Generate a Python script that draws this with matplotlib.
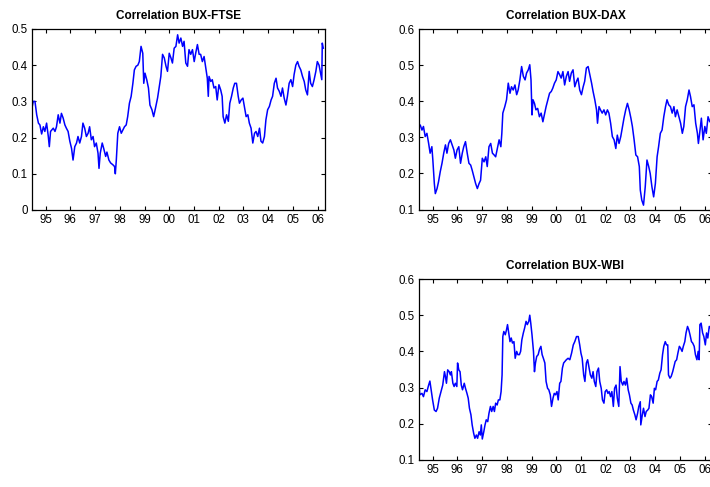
import matplotlib
matplotlib.use('Agg')
import matplotlib.pyplot as plt

# 滚动相关系数
ftse_years = [1994.46, 1994.50, 1994.57, 1994.64, 1994.71, 1994.77, 1994.84, 1994.91, 1994.97, 1995.04,
              1995.11, 1995.15, 1995.20, 1995.31, 1995.38, 1995.44, 1995.51, 1995.58, 1995.64, 1995.71,
              1995.78, 1995.84, 1995.91, 1995.98, 1996.05, 1996.11, 1996.18, 1996.25, 1996.31, 1996.38,
              1996.45, 1996.51, 1996.58, 1996.65, 1996.72, 1996.78, 1996.85, 1996.92, 1996.98, 1997.05,
              1997.12, 1997.16, 1997.21, 1997.29, 1997.35, 1997.43, 1997.48, 1997.56, 1997.63, 1997.72,
              1997.79, 1997.82, 1997.86, 1997.92, 1997.99, 1998.06, 1998.12, 1998.19, 1998.26, 1998.32,
              1998.39, 1998.46, 1998.53, 1998.59, 1998.66, 1998.73, 1998.79, 1998.86, 1998.93, 1998.97,
              1999.02, 1999.09, 1999.16, 1999.22, 1999.30, 1999.37, 1999.44, 1999.53, 1999.60, 1999.66,
              1999.73, 1999.80, 1999.87, 1999.93, 2000.00, 2000.07, 2000.13, 2000.20, 2000.27, 2000.34,
              2000.40, 2000.47, 2000.54, 2000.60, 2000.67, 2000.74, 2000.80, 2000.87, 2000.94, 2001.01,
              2001.07, 2001.14, 2001.21, 2001.27, 2001.34, 2001.41, 2001.47, 2001.54, 2001.58, 2001.61,
              2001.68, 2001.74, 2001.81, 2001.88, 2001.94, 2002.01, 2002.08, 2002.14, 2002.18, 2002.25,
              2002.32, 2002.39, 2002.45, 2002.52, 2002.59, 2002.65, 2002.72, 2002.79, 2002.84, 2002.91,
              2002.98, 2003.04, 2003.11, 2003.18, 2003.24, 2003.31, 2003.38, 2003.45, 2003.51, 2003.58,
              2003.65, 2003.71, 2003.78, 2003.85, 2003.91, 2003.98, 2004.05, 2004.12, 2004.18, 2004.25,
              2004.32, 2004.38, 2004.45, 2004.52, 2004.58, 2004.65, 2004.72, 2004.78, 2004.85, 2004.92,
              2004.99, 2005.05, 2005.12, 2005.19, 2005.25, 2005.32, 2005.39, 2005.46, 2005.52, 2005.59,
              2005.66, 2005.72, 2005.79, 2005.86, 2005.93, 2005.99, 2006.06, 2006.13, 2006.17, 2006.19,
              2006.23]
ftse_corr = [0.286, 0.300, 0.300, 0.263, 0.240, 0.235, 0.210, 0.230, 0.217, 0.240,
             0.203, 0.175, 0.217, 0.226, 0.217, 0.230, 0.263, 0.240, 0.267, 0.254,
             0.235, 0.226, 0.217, 0.190, 0.170, 0.138, 0.175, 0.185, 0.203, 0.185,
             0.203, 0.240, 0.226, 0.203, 0.212, 0.230, 0.194, 0.203, 0.175, 0.185,
             0.157, 0.115, 0.157, 0.185, 0.170, 0.148, 0.160, 0.138, 0.130, 0.125,
             0.120, 0.100, 0.138, 0.212, 0.230, 0.212, 0.220, 0.230, 0.235, 0.258,
             0.295, 0.314, 0.350, 0.387, 0.397, 0.400, 0.410, 0.452, 0.433, 0.350,
             0.378, 0.360, 0.337, 0.290, 0.277, 0.258, 0.280, 0.310, 0.341, 0.369,
             0.430, 0.420, 0.397, 0.383, 0.433, 0.420, 0.406, 0.447, 0.452, 0.484,
             0.461, 0.475, 0.452, 0.466, 0.406, 0.397, 0.443, 0.430, 0.443, 0.410,
             0.433, 0.457, 0.430, 0.430, 0.410, 0.424, 0.397, 0.364, 0.314, 0.369,
             0.355, 0.360, 0.337, 0.341, 0.304, 0.346, 0.332, 0.314, 0.258, 0.240,
             0.263, 0.245, 0.295, 0.314, 0.337, 0.350, 0.350, 0.314, 0.295, 0.304,
             0.309, 0.286, 0.258, 0.263, 0.240, 0.226, 0.185, 0.212, 0.217, 0.203,
             0.226, 0.190, 0.185, 0.203, 0.249, 0.277, 0.286, 0.304, 0.314, 0.350,
             0.364, 0.337, 0.328, 0.314, 0.337, 0.309, 0.290, 0.314, 0.350, 0.360,
             0.341, 0.374, 0.400, 0.410, 0.397, 0.387, 0.369, 0.355, 0.332, 0.318,
             0.383, 0.350, 0.341, 0.360, 0.383, 0.410, 0.400, 0.374, 0.360, 0.461,
             0.447]

dax_years = [1994.46, 1994.50, 1994.57, 1994.63, 1994.70, 1994.77, 1994.84, 1994.90, 1994.97, 1995.01,
             1995.07, 1995.11, 1995.18, 1995.24, 1995.31, 1995.38, 1995.45, 1995.52, 1995.58, 1995.65,
             1995.72, 1995.79, 1995.86, 1995.92, 1995.99, 1996.06, 1996.13, 1996.20, 1996.26, 1996.33,
             1996.40, 1996.47, 1996.54, 1996.60, 1996.67, 1996.74, 1996.81, 1996.88, 1996.94, 1997.01,
             1997.08, 1997.15, 1997.21, 1997.28, 1997.35, 1997.42, 1997.49, 1997.55, 1997.62, 1997.69,
             1997.76, 1997.80, 1997.84, 1997.92, 1997.99, 1998.06, 1998.13, 1998.19, 1998.26, 1998.33,
             1998.40, 1998.46, 1998.53, 1998.60, 1998.67, 1998.74, 1998.80, 1998.87, 1998.93, 1998.98,
             1999.02, 1999.06, 1999.12, 1999.18, 1999.25, 1999.32, 1999.39, 1999.46, 1999.52, 1999.59,
             1999.66, 1999.73, 1999.80, 1999.86, 1999.93, 2000.00, 2000.07, 2000.14, 2000.20, 2000.27,
             2000.34, 2000.41, 2000.48, 2000.54, 2000.61, 2000.68, 2000.75, 2000.82, 2000.88, 2000.95,
             2001.02, 2001.09, 2001.15, 2001.22, 2001.29, 2001.36, 2001.43, 2001.49, 2001.56, 2001.63,
             2001.67, 2001.73, 2001.79, 2001.86, 2001.93, 2002.00, 2002.07, 2002.13, 2002.20, 2002.27,
             2002.34, 2002.41, 2002.47, 2002.54, 2002.61, 2002.68, 2002.74, 2002.81, 2002.88, 2002.95,
             2003.02, 2003.08, 2003.15, 2003.22, 2003.29, 2003.36, 2003.40, 2003.46, 2003.53, 2003.60,
             2003.67, 2003.74, 2003.80, 2003.87, 2003.94, 2004.01, 2004.08, 2004.14, 2004.21, 2004.28,
             2004.35, 2004.42, 2004.48, 2004.55, 2004.62, 2004.69, 2004.76, 2004.82, 2004.89, 2004.96,
             2005.03, 2005.10, 2005.16, 2005.23, 2005.30, 2005.37, 2005.43, 2005.50, 2005.57, 2005.64,
             2005.71, 2005.75, 2005.80, 2005.87, 2005.94, 2006.01, 2006.07, 2006.14, 2006.21, 2006.28,
             2006.32]
dax_corr = [0.330, 0.334, 0.320, 0.330, 0.302, 0.311, 0.283, 0.256, 0.274, 0.237,
            0.172, 0.144, 0.158, 0.177, 0.205, 0.228, 0.256, 0.279, 0.256, 0.283,
            0.293, 0.279, 0.265, 0.242, 0.265, 0.274, 0.228, 0.256, 0.274, 0.288,
            0.256, 0.228, 0.223, 0.209, 0.191, 0.172, 0.158, 0.172, 0.181, 0.242,
            0.232, 0.246, 0.219, 0.274, 0.283, 0.256, 0.251, 0.246, 0.269, 0.293,
            0.274, 0.311, 0.367, 0.385, 0.404, 0.450, 0.422, 0.440, 0.431, 0.445,
            0.418, 0.431, 0.459, 0.496, 0.469, 0.459, 0.478, 0.487, 0.501, 0.459,
            0.362, 0.404, 0.394, 0.376, 0.380, 0.357, 0.367, 0.343, 0.362, 0.385,
            0.404, 0.422, 0.427, 0.436, 0.450, 0.459, 0.482, 0.473, 0.464, 0.482,
            0.445, 0.469, 0.482, 0.455, 0.478, 0.487, 0.440, 0.455, 0.464, 0.431,
            0.418, 0.440, 0.455, 0.492, 0.496, 0.473, 0.450, 0.427, 0.404, 0.376,
            0.339, 0.385, 0.376, 0.367, 0.376, 0.362, 0.376, 0.367, 0.339, 0.302,
            0.293, 0.269, 0.306, 0.283, 0.302, 0.330, 0.353, 0.376, 0.394, 0.376,
            0.353, 0.330, 0.293, 0.251, 0.246, 0.219, 0.154, 0.126, 0.112, 0.163,
            0.237, 0.219, 0.200, 0.163, 0.135, 0.172, 0.246, 0.274, 0.311, 0.320,
            0.357, 0.385, 0.404, 0.390, 0.385, 0.367, 0.385, 0.357, 0.376, 0.357,
            0.339, 0.311, 0.330, 0.385, 0.404, 0.431, 0.413, 0.385, 0.390, 0.339,
            0.311, 0.283, 0.311, 0.353, 0.293, 0.330, 0.311, 0.357, 0.343, 0.353,
            0.330]

wbi_years = [1994.43, 1994.48, 1994.57, 1994.63, 1994.70, 1994.77, 1994.84, 1994.89, 1994.95, 1995.00,
             1995.07, 1995.14, 1995.20, 1995.27, 1995.34, 1995.41, 1995.48, 1995.52, 1995.56, 1995.61,
             1995.67, 1995.72, 1995.76, 1995.82, 1995.87, 1995.92, 1995.98, 1996.01, 1996.06, 1996.11,
             1996.16, 1996.21, 1996.28, 1996.33, 1996.39, 1996.44, 1996.49, 1996.55, 1996.60, 1996.66,
             1996.71, 1996.77, 1996.82, 1996.88, 1996.93, 1996.97, 1997.01, 1997.07, 1997.12, 1997.17,
             1997.23, 1997.28, 1997.34, 1997.39, 1997.45, 1997.50, 1997.55, 1997.61, 1997.66, 1997.72,
             1997.77, 1997.81, 1997.84, 1997.88, 1997.94, 1997.99, 1998.03, 1998.07, 1998.13, 1998.18,
             1998.23, 1998.29, 1998.34, 1998.40, 1998.45, 1998.51, 1998.56, 1998.61, 1998.67, 1998.72,
             1998.78, 1998.83, 1998.89, 1998.93, 1998.97, 1999.02, 1999.08, 1999.12, 1999.16, 1999.21,
             1999.27, 1999.32, 1999.38, 1999.43, 1999.48, 1999.54, 1999.59, 1999.65, 1999.70, 1999.76,
             1999.81, 1999.87, 1999.92, 1999.97, 2000.03, 2000.08, 2000.14, 2000.19, 2000.25, 2000.30,
             2000.35, 2000.41, 2000.48, 2000.55, 2000.62, 2000.69, 2000.75, 2000.82, 2000.89, 2000.95,
             2001.00, 2001.05, 2001.11, 2001.16, 2001.22, 2001.27, 2001.33, 2001.38, 2001.44, 2001.49,
             2001.54, 2001.60, 2001.65, 2001.71, 2001.76, 2001.82, 2001.87, 2001.93, 2001.98, 2002.04,
             2002.09, 2002.14, 2002.20, 2002.25, 2002.31, 2002.36, 2002.42, 2002.47, 2002.53, 2002.58,
             2002.63, 2002.69, 2002.74, 2002.80, 2002.85, 2002.91, 2002.96, 2003.02, 2003.07, 2003.12,
             2003.18, 2003.23, 2003.29, 2003.34, 2003.40, 2003.42, 2003.48, 2003.53, 2003.59, 2003.64,
             2003.70, 2003.75, 2003.81, 2003.86, 2003.92, 2003.97, 2004.02, 2004.08, 2004.13, 2004.19,
             2004.24, 2004.30, 2004.35, 2004.41, 2004.46, 2004.51, 2004.54, 2004.60, 2004.65, 2004.71,
             2004.76, 2004.81, 2004.87, 2004.92, 2004.98, 2005.03, 2005.09, 2005.14, 2005.20, 2005.25,
             2005.31, 2005.36, 2005.41, 2005.47, 2005.52, 2005.58, 2005.63, 2005.69, 2005.74, 2005.78,
             2005.81, 2005.86, 2005.92, 2005.97, 2006.03, 2006.08, 2006.13, 2006.19, 2006.24, 2006.30,
             2006.34]
wbi_corr = [0.335, 0.280, 0.284, 0.275, 0.294, 0.289, 0.307, 0.318, 0.289, 0.266,
            0.238, 0.234, 0.243, 0.271, 0.289, 0.307, 0.344, 0.330, 0.312, 0.349,
            0.344, 0.335, 0.344, 0.312, 0.303, 0.312, 0.303, 0.368, 0.349, 0.344,
            0.307, 0.294, 0.312, 0.298, 0.284, 0.271, 0.243, 0.225, 0.197, 0.174,
            0.160, 0.169, 0.160, 0.178, 0.169, 0.197, 0.158, 0.178, 0.197, 0.211,
            0.206, 0.229, 0.248, 0.234, 0.248, 0.234, 0.257, 0.252, 0.266, 0.266,
            0.289, 0.335, 0.441, 0.455, 0.446, 0.460, 0.474, 0.455, 0.427, 0.437,
            0.423, 0.427, 0.381, 0.400, 0.391, 0.391, 0.400, 0.432, 0.451, 0.464,
            0.483, 0.474, 0.483, 0.500, 0.478, 0.446, 0.400, 0.344, 0.368, 0.386,
            0.391, 0.405, 0.414, 0.391, 0.381, 0.368, 0.317, 0.298, 0.294, 0.280,
            0.248, 0.271, 0.284, 0.280, 0.289, 0.266, 0.312, 0.317, 0.354, 0.368,
            0.372, 0.377, 0.381, 0.377, 0.395, 0.418, 0.427, 0.441, 0.441, 0.418,
            0.395, 0.381, 0.335, 0.317, 0.368, 0.377, 0.354, 0.335, 0.326, 0.344,
            0.317, 0.303, 0.344, 0.354, 0.317, 0.298, 0.266, 0.257, 0.289, 0.294,
            0.284, 0.289, 0.275, 0.289, 0.248, 0.298, 0.307, 0.271, 0.248, 0.358,
            0.317, 0.307, 0.317, 0.307, 0.326, 0.294, 0.280, 0.257, 0.252, 0.238,
            0.225, 0.211, 0.229, 0.248, 0.261, 0.197, 0.224, 0.243, 0.220, 0.234,
            0.238, 0.243, 0.280, 0.275, 0.257, 0.298, 0.294, 0.317, 0.321, 0.340,
            0.349, 0.391, 0.414, 0.427, 0.418, 0.418, 0.335, 0.326, 0.331, 0.344,
            0.358, 0.372, 0.377, 0.395, 0.414, 0.409, 0.400, 0.414, 0.427, 0.451,
            0.469, 0.460, 0.446, 0.427, 0.423, 0.414, 0.391, 0.377, 0.400, 0.377,
            0.474, 0.478, 0.451, 0.441, 0.418, 0.451, 0.437, 0.469, 0.464, 0.474,
            0.478]

year_ticks = list(range(1995, 2007))
year_labels = ['%02d' % (y % 100) for y in year_ticks]

plt.rcParams['font.family'] = ['Liberation Sans', 'DejaVu Sans']


def draw_panel(ax, years, corr, title, ylim, yticks):
    ax.plot(years, corr, color='#0000FF', linewidth=1.1)
    ax.set_xlim(1994.45, 2006.30)
    ax.set_ylim(*ylim)
    ax.set_xticks(year_ticks)
    ax.set_xticklabels(year_labels)
    ax.set_yticks(yticks)
    ax.set_yticklabels(['%g' % v for v in yticks])
    ax.tick_params(direction='in', length=3, width=0.8, labelsize=8.3,
                   top=True, right=True, pad=3)
    for sp in ax.spines.values():
        sp.set_linewidth(0.9)
    ax.set_title(title, fontsize=8.5, fontweight='bold', pad=7)


fig = plt.figure(figsize=(7.1, 4.87), dpi=100)
W, H = 710.0, 487.0

# 轴的位置 (像素 -> 比例)
ax1 = fig.add_axes([32 / W, (H - 210) / H, 293 / W, 181 / H])
ax2 = fig.add_axes([419 / W, (H - 209.5) / H, 293 / W, 180.5 / H])
ax3 = fig.add_axes([419 / W, (H - 460) / H, 293 / W, 181 / H])

draw_panel(ax1, ftse_years, ftse_corr, 'Correlation BUX-FTSE', (0, 0.5),
           [0, 0.1, 0.2, 0.3, 0.4, 0.5])
draw_panel(ax2, dax_years, dax_corr, 'Correlation BUX-DAX', (0.1, 0.6),
           [0.1, 0.2, 0.3, 0.4, 0.5, 0.6])
draw_panel(ax3, wbi_years, wbi_corr, 'Correlation BUX-WBI', (0.1, 0.6),
           [0.1, 0.2, 0.3, 0.4, 0.5, 0.6])

fig.savefig('out.png', dpi=100)
